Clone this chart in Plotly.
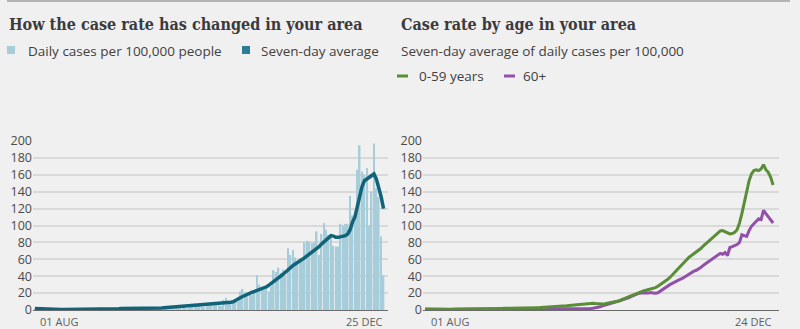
import pandas as pd
import plotly.graph_objects as go

# ---- data -------------------------------------------------------------
# Daily cases per 100,000 people, 01 Aug - 25 Dec 2020
daily_cases = [
    1.5, 1.0, 2.0, 2.2, 1.6, 1.4, 1.2,
    0.8, 0.4, 0.9, 1.0, 0.7, 0.6, 0.5,
    0.5, 0.3, 0.8, 1.0, 0.9, 0.8, 0.7,
    0.6, 0.5, 1.2, 1.4, 1.1, 1.0, 0.9,
    1.0, 0.7, 1.6, 1.8, 1.5, 1.4, 1.3,
    1.2, 0.9, 2.0, 2.1, 1.7, 1.6, 1.5,
    1.4, 1.0, 2.3, 2.5, 2.0, 1.9, 1.8,
    1.6, 1.3, 2.9, 3.2, 2.6, 2.5, 2.4,
    2.2, 1.7, 4.0, 4.4, 3.6, 3.5, 3.4,
    3.0, 2.4, 5.6, 6.2, 5.0, 4.9, 4.7,
    4.3, 3.5, 7.5, 8.4, 7.0, 6.8, 6.5,
    5.6, 4.8, 12.0, 14.5, 11.0, 10.4, 10.0,
    12.0, 10.0, 22.0, 25.0, 21.0, 20.0, 19.0,
    18, 22, 41, 30, 26, 24, 27,
    22, 28, 47, 45, 50, 44, 48,
    40, 73, 65, 71, 62, 56, 58,
    60, 80, 82, 81, 79, 80, 93,
    65, 90, 103, 95, 89, 89, 76,
    75, 75, 102, 100, 102, 102, 135,
    112, 108, 166, 195, 164, 160, 168,
    100, 140, 197, 144, 134, 87, 41,
]

# Seven-day average of daily cases per 100,000, 01 Aug - 25 Dec 2020
seven_day_avg = [
    1.8, 1.6, 1.4, 1.2, 1.0, 0.9, 0.8, 0.7, 0.7, 0.6,
    0.6, 0.6, 0.6, 0.6, 0.7, 0.7, 0.7, 0.8, 0.8, 0.8,
    0.9, 0.9, 1.0, 1.0, 1.1, 1.1, 1.2, 1.2, 1.3, 1.3,
    1.4, 1.4, 1.5, 1.5, 1.6, 1.6, 1.7, 1.7, 1.6, 1.6,
    1.6, 1.7, 1.7, 1.8, 1.8, 1.9, 2.0, 2.0, 2.1, 2.2,
    2.2, 2.3, 2.4, 2.5, 2.7, 2.9, 3.1, 3.3, 3.5, 3.7,
    3.9, 4.1, 4.4, 4.6, 4.8, 5.0, 5.2, 5.4, 5.7, 6.0,
    6.2, 6.5, 6.8, 7.0, 7.2, 7.4, 7.5, 7.6, 7.8, 8.0,
    8.3, 8.7, 9.2, 9.8, 11.0, 12.5, 14.5, 16.0, 17.5, 19.0,
    20.0, 21.0, 22.0, 23.0, 24.0, 25.0, 26.0, 27.5, 29.5, 31.5,
    33.5, 35.5, 37.5, 40.0, 42.5, 45.0, 48.0, 50.5, 52.5, 54.5,
    56.0, 58.0, 60.0, 62.0, 64.0, 66.0, 68.0, 70.0, 72.0, 75.0,
    78.0, 80.5, 83.0, 85.5, 88.0, 87.5, 86.0, 86.0, 86.5, 87.0,
    88.0, 90.0, 95.0, 104.0, 110.0, 122.0, 136.0, 146.0, 153.0, 155.0,
    156.0, 158.0, 161.0, 155.0, 146.0, 134.0, 120.0,
]

# Seven-day average by age group, 01 Aug - 24 Dec 2020
age_0_59 = [
    1.2, 1.1, 1.1, 1.0, 1.0, 1.0, 0.9, 0.9, 0.9, 1.0,
    1.0, 1.0, 1.1, 1.1, 1.1, 1.2, 1.2, 1.2, 1.3, 1.3,
    1.3, 1.4, 1.4, 1.5, 1.5, 1.6, 1.6, 1.7, 1.7, 1.8,
    1.8, 1.9, 1.9, 2.0, 2.0, 2.1, 2.1, 2.2, 2.2, 2.3,
    2.3, 2.4, 2.4, 2.5, 2.5, 2.6, 2.7, 2.8, 2.9, 3.0,
    3.1, 3.2, 3.3, 3.5, 3.7, 3.8, 4.0, 4.3, 4.6, 4.9,
    5.2, 5.5, 5.8, 6.1, 6.4, 6.7, 7.0, 7.3, 7.6, 7.9,
    8.0, 7.6, 7.2, 7.0, 7.1, 7.4, 7.8, 8.3, 9.0, 9.6,
    10.3, 11.0, 12.0, 13.2, 14.5, 15.8, 17.0, 18.3, 19.5, 20.8,
    21.8, 22.6, 23.3, 24.0, 24.8, 25.5, 26.5, 28.0, 29.8, 31.8,
    34.0, 36.0, 38.5, 41.5, 44.5, 48.0, 51.5, 54.5, 57.5, 60.5,
    62.5, 64.5, 66.5, 68.5, 70.5, 73.0, 76.0, 78.5, 81.0, 83.5,
    86.5, 89.5, 91.5, 93.5, 94.0, 92.5, 91.0, 90.0, 90.5, 92.0,
    95.0, 103.0, 114.0, 128.0, 142.0, 153.0, 161.0, 165.0, 166.0, 165.0,
    167.0, 172.0, 166.0, 163.0, 157.0, 148.0,
]

age_60_plus = [
    1.0, 0.9, 0.9, 0.8, 0.8, 0.8, 0.7, 0.7, 0.7, 0.7,
    0.7, 0.7, 0.7, 0.8, 0.8, 0.8, 0.8, 0.9, 0.9, 0.9,
    0.9, 1.0, 1.0, 1.0, 1.0, 1.1, 1.1, 1.1, 1.1, 1.2,
    1.2, 1.2, 1.2, 1.3, 1.3, 1.3, 1.2, 1.2, 1.2, 1.2,
    1.2, 1.1, 1.1, 1.1, 1.1, 1.1, 1.1, 1.0, 1.0, 1.0,
    1.0, 1.0, 1.0, 1.0, 1.1, 1.1, 1.1, 1.2, 1.2, 1.2,
    1.3, 1.3, 1.3, 1.4, 1.4, 1.5, 1.5, 1.6, 1.7, 1.8,
    2.0, 2.4, 3.0, 3.8, 4.8, 5.8, 6.8, 7.8, 8.6, 9.3,
    10.0, 10.8, 11.6, 12.4, 13.4, 14.6, 16.0, 17.4, 18.6, 19.6,
    20.2, 20.5, 20.3, 20.0, 20.6, 20.2, 19.8, 20.4, 22.5, 24.5,
    26.5, 28.5, 30.0, 31.5, 33.0, 35.0, 36.0, 37.0, 39.0, 41.0,
    42.5, 44.5, 46.0, 47.0, 48.5, 50.5, 53.0, 55.0, 57.0, 59.5,
    61.5, 63.5, 65.5, 67.0, 66.0, 68.0, 64.5, 74.0, 75.0, 76.0,
    77.5, 80.0, 89.0, 88.0, 87.0, 94.0, 99.0, 102.0, 105.0, 108.0,
    107.0, 118.0, 114.0, 110.0, 106.0, 103.0,
]

dates_all = pd.date_range("2020-08-01", "2020-12-25", freq="D")
dates_age = pd.date_range("2020-08-01", "2020-12-24", freq="D")

y_ticks = [0, 20, 40, 60, 80, 100, 120, 140, 160, 180, 200]
left_x_labels = ["01 AUG", "25 DEC"]
right_x_labels = ["01 AUG", "24 DEC"]

# ---- styling ------------------------------------------------------------
W, H = 800, 329
BG = "#f0f0f0"
GRID = "#d9d9d9"
TEXT = "#404040"
SANS = "Open Sans, Noto Sans, sans-serif"
SERIF = "DejaVu Serif Condensed, Liberation Serif, serif"

BAR_COLOR = "#a7cdda"
AVG_COLOR = "#11637a"
AVG_KEY = "#2f7e99"
YOUNG_COLOR = "#5a8d38"
OLD_COLOR = "#9150aa"


def px_x(x):
    return x / W


def px_y(y):
    return 1 - y / H


fig = go.Figure()

fig.add_trace(go.Bar(
    x=dates_all, y=daily_cases, marker=dict(color=BAR_COLOR, line=dict(width=0)),
    xaxis="x", yaxis="y", showlegend=False, hoverinfo="skip",
))
fig.add_trace(go.Scatter(
    x=dates_all, y=seven_day_avg, mode="lines",
    line=dict(color=AVG_COLOR, width=3.5),
    xaxis="x", yaxis="y", showlegend=False,
))
fig.add_trace(go.Scatter(
    x=dates_age, y=age_60_plus, mode="lines",
    line=dict(color=OLD_COLOR, width=3),
    xaxis="x2", yaxis="y2", showlegend=False,
))
fig.add_trace(go.Scatter(
    x=dates_age, y=age_0_59, mode="lines",
    line=dict(color=YOUNG_COLOR, width=3),
    xaxis="x2", yaxis="y2", showlegend=False,
))

y_domain = [px_y(310), px_y(141)]
yaxis_style = dict(
    range=[0, 200], tickvals=y_ticks, showgrid=True, gridcolor=GRID, gridwidth=1.5,
    zeroline=False, ticks="", tickfont=dict(family=SANS, size=12.5, color="#4a4a4a"),
    domain=y_domain, fixedrange=True, ticklabelstandoff=0, automargin=False,
)
xaxis_style = dict(
    type="date", showgrid=False, zeroline=False, showticklabels=False,
    showline=True, linecolor="#6a6a6a", linewidth=1, fixedrange=True, automargin=False,
)

fig.update_layout(
    width=W, height=H, autosize=False,
    margin=dict(l=0, r=0, t=0, b=0, pad=0),
    paper_bgcolor=BG, plot_bgcolor=BG,
    bargap=0.35,
    xaxis=dict(xaxis_style, domain=[px_x(33), px_x(388)],
               range=["2020-07-31 04:00", "2020-12-26 21:00"], anchor="y"),
    yaxis=dict(yaxis_style, anchor="x"),
    xaxis2=dict(xaxis_style, domain=[px_x(423), px_x(779)],
                range=["2020-07-31 04:00", "2020-12-26 11:00"], anchor="y2"),
    yaxis2=dict(yaxis_style, anchor="x2"),
)

annotations = []
shapes = []

# top rule
shapes.append(dict(type="rect", xref="paper", yref="paper",
                   x0=px_x(7), x1=px_x(790), y0=px_y(2), y1=px_y(0),
                   fillcolor="#b4b4b4", line=dict(width=0), layer="above"))

# titles
annotations.append(dict(text="<b>How the case rate has changed in your area</b>",
                        xref="paper", yref="paper", x=px_x(7), y=px_y(25),
                        xanchor="left", yanchor="middle", showarrow=False,
                        font=dict(family=SERIF, size=16, color="#3a3a3c")))
annotations.append(dict(text="<b>Case rate by age in your area</b>",
                        xref="paper", yref="paper", x=px_x(399), y=px_y(25),
                        xanchor="left", yanchor="middle", showarrow=False,
                        font=dict(family=SERIF, size=16, color="#3a3a3c")))
annotations.append(dict(text="Seven-day average of daily cases per 100,000",
                        xref="paper", yref="paper", x=px_x(399), y=px_y(51),
                        xanchor="left", yanchor="middle", showarrow=False,
                        font=dict(family=SANS, size=13.5, color=TEXT)))

# left key (squares)
for x0, color, label, tx in [(7, BAR_COLOR, "Daily cases per 100,000 people", 26),
                             (242, AVG_KEY, "Seven-day average", 259)]:
    shapes.append(dict(type="rect", xref="paper", yref="paper",
                       x0=px_x(x0), x1=px_x(x0 + 8), y0=px_y(54), y1=px_y(46),
                       fillcolor=color, line=dict(width=0)))
    annotations.append(dict(text=label, xref="paper", yref="paper",
                            x=px_x(tx), y=px_y(51), xanchor="left", yanchor="middle",
                            showarrow=False, font=dict(family=SANS, size=13.5, color=TEXT)))

# right key (short dashes)
for x0, x1, color, label, tx in [(397, 408, YOUNG_COLOR, "0-59 years", 417),
                                 (504, 515, OLD_COLOR, "60+", 521)]:
    shapes.append(dict(type="line", xref="paper", yref="paper",
                       x0=px_x(x0), x1=px_x(x1), y0=px_y(76), y1=px_y(76),
                       line=dict(color=color, width=3)))
    annotations.append(dict(text=label, xref="paper", yref="paper",
                            x=px_x(tx), y=px_y(76), xanchor="left", yanchor="middle",
                            showarrow=False, font=dict(family=SANS, size=13.5, color=TEXT)))

# first / last date labels under each axis
for xref, dates, labels, shift0 in [("x", dates_all, left_x_labels, 3),
                                    ("x2", dates_age, right_x_labels, 4)]:
    annotations.append(dict(text=labels[0], xref=xref, yref="paper", x=dates[0],
                            y=px_y(321), xanchor="left", yanchor="middle", xshift=shift0,
                            showarrow=False, font=dict(family=SANS, size=11, color="#5e5e5e")))
    annotations.append(dict(text=labels[1], xref=xref, yref="paper", x=dates[-1],
                            y=px_y(321), xanchor="right", yanchor="middle", xshift=1,
                            showarrow=False, font=dict(family=SANS, size=11, color="#5e5e5e")))

fig.update_layout(annotations=annotations, shapes=shapes)

# the page body gets no margin so the 800x329 figure fills the window exactly
fig.write_html(
    "out.html",
    post_script="document.body.style.margin='0';document.body.style.padding='0';"
                "document.documentElement.style.overflow='hidden';",
)
